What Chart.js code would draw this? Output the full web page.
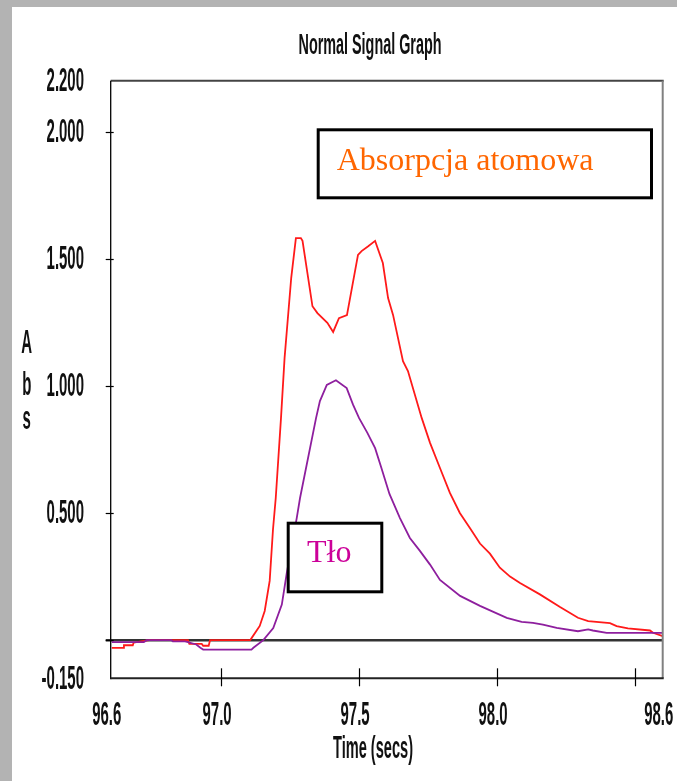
<!DOCTYPE html>
<html><head><meta charset="utf-8">
<script src="https://cdn.jsdelivr.net/npm/chart.js@4/dist/chart.umd.min.js"></script>
<style>
html,body{margin:0;padding:0;background:#b3b3b3;width:677px;height:781px;overflow:hidden}
#wrap{position:absolute;left:12px;top:7px;width:665px;height:774px;background:#fff}
canvas{display:block}
</style></head><body>
<div id="wrap"><canvas id="c" width="665" height="774"></canvas></div>
<script>
// ---- data (time in seconds, absorbance) ----
const title = "Normal Signal Graph";
const xTitle = "Time (secs)";
const yTitle = ["A", "b", "s"];
const seriesNames = ["Absorpcja atomowa", "Tło"];
const xTickValues = [97.0, 97.5, 98.0, 98.5];
const xTickLabels = [[96.6, "96.6"], [97.0, "97.0"], [97.5, "97.5"], [98.0, "98.0"], [98.6, "98.6"]];
const yTickValues = [2.0, 1.5, 1.0, 0.5, 0.0];
const yTickLabels = [[2.2, "2.200"], [2.0, "2.000"], [1.5, "1.500"], [1.0, "1.000"], [0.5, "0.500"], [-0.15, "-0.150"]];

const redTime = [96.604, 96.645, 96.648, 96.680, 96.683, 96.71, 96.74, 96.88, 96.885, 96.93, 96.935, 96.955, 96.96, 97.105,
  97.111, 97.140, 97.158, 97.176, 97.188, 97.198, 97.217, 97.230, 97.242, 97.254, 97.271, 97.289, 97.295, 97.331, 97.349,
  97.385, 97.406, 97.427, 97.456, 97.496, 97.509, 97.533, 97.558, 97.586, 97.605, 97.623, 97.659, 97.677, 97.727, 97.757,
  97.793, 97.829, 97.865, 97.902, 97.938, 97.974, 98.010, 98.047, 98.083, 98.155, 98.228, 98.293, 98.330, 98.409, 98.433,
  98.474, 98.554, 98.565, 98.600];
const redAbs = [-0.03, -0.03, -0.02, -0.02, -0.01, -0.005, 0, 0, -0.015, -0.015, -0.022, -0.022, 0, 0,
  0.009, 0.056, 0.115, 0.233, 0.435, 0.559, 0.873, 1.11, 1.267, 1.424, 1.581, 1.581, 1.57, 1.313, 1.286,
  1.248, 1.212, 1.266, 1.278, 1.515, 1.53, 1.549, 1.57, 1.483, 1.345, 1.279, 1.097, 1.058, 0.873, 0.776,
  0.677, 0.579, 0.5, 0.44, 0.38, 0.34, 0.285, 0.25, 0.225, 0.18, 0.13, 0.088, 0.075, 0.067, 0.055,
  0.046, 0.038, 0.029, 0.016];

const bgTime = [96.604, 96.72, 96.73, 96.82, 96.825, 96.87, 96.91, 96.925, 96.935, 97.11, 97.117, 97.153, 97.189, 97.220,
  97.238, 97.274, 97.286, 97.344, 97.358, 97.383, 97.416, 97.455, 97.478, 97.500, 97.530, 97.558, 97.580, 97.610, 97.648, 97.684,
  97.721, 97.757, 97.793, 97.866, 97.938, 98.035, 98.089, 98.130, 98.166, 98.216, 98.293, 98.330, 98.347, 98.397, 98.600];
const bgAbs = [-0.008, -0.008, 0, 0, -0.005, -0.005, -0.017, -0.03, -0.037, -0.037, -0.03, 0, 0.048, 0.14,
  0.264, 0.48, 0.559, 0.873, 0.94, 1.004, 1.022, 0.991, 0.926, 0.873, 0.815, 0.755, 0.68, 0.575, 0.48, 0.402,
  0.35, 0.297, 0.237, 0.174, 0.135, 0.088, 0.072, 0.068, 0.061, 0.048, 0.035, 0.042, 0.038, 0.029, 0.029];

const X_MIN = 96.6, X_MAX = 98.6, Y_MIN = -0.15, Y_MAX = 2.2;

function pts(ts, vs) { return ts.map((t, i) => ({x: t, y: vs[i]})); }

function narrow(ctx, text, x, y, font, sx, align, color) {
  ctx.save();
  ctx.font = font;
  ctx.fillStyle = color || "#000";
  ctx.textBaseline = "middle";
  ctx.translate(x, y);
  ctx.scale(sx, 1);
  ctx.textAlign = align;
  ctx.fillText(text, 0, 0);
  ctx.restore();
}
function narrowW(ctx, text, x, y, font, width, color) {
  ctx.save();
  ctx.font = font;
  const w = ctx.measureText(text).width;
  ctx.restore();
  narrow(ctx, text, x, y, font, width / w, "center", color);
}

const NUMFONT = "bold 34px 'Liberation Sans', Arial, sans-serif";
const NUMSX = 0.44;

const axesPlugin = {
  id: "axesPlugin",
  beforeDatasetsDraw(chart) {
    const ctx = chart.ctx, ys = chart.scales.y, a = chart.chartArea;
    ctx.save();
    const y0 = ys.getPixelForValue(0);
    ctx.strokeStyle = "#333"; ctx.lineWidth = 2.5;
    ctx.beginPath(); ctx.moveTo(a.left - 5, y0); ctx.lineTo(a.right, y0); ctx.stroke();
    ctx.restore();
  },
  afterDatasetsDraw(chart) {
    const ctx = chart.ctx, xs = chart.scales.x, ys = chart.scales.y, a = chart.chartArea;
    ctx.save();
    ctx.lineCap = "butt";
    ctx.strokeStyle = "#444"; ctx.lineWidth = 2;
    ctx.beginPath(); ctx.moveTo(a.left, a.top); ctx.lineTo(a.right + 1, a.top); ctx.stroke();
    ctx.strokeStyle = "#808080"; ctx.lineWidth = 2;
    ctx.beginPath(); ctx.moveTo(a.right, a.top); ctx.lineTo(a.right, a.bottom); ctx.stroke();
    ctx.strokeStyle = "#000"; ctx.lineWidth = 1.3;
    ctx.beginPath(); ctx.moveTo(a.left, a.top); ctx.lineTo(a.left, a.bottom + 1); ctx.stroke();
    ctx.strokeStyle = "#222"; ctx.lineWidth = 2;
    ctx.beginPath(); ctx.moveTo(a.left, a.bottom); ctx.lineTo(a.right + 1, a.bottom); ctx.stroke();
    ctx.strokeStyle = "#000"; ctx.lineWidth = 1.2;
    yTickValues.forEach(v => {
      const y = Math.round(ys.getPixelForValue(v)) + 0.5;
      ctx.beginPath(); ctx.moveTo(a.left - 5, y); ctx.lineTo(a.left + 3, y); ctx.stroke();
    });
    xTickValues.forEach(v => {
      const x = Math.round(xs.getPixelForValue(v)) + 0.5;
      ctx.beginPath(); ctx.moveTo(x, a.bottom - 10); ctx.lineTo(x, a.bottom + 8); ctx.stroke();
    });
    yTickLabels.forEach(([v, s]) => {
      narrow(ctx, s, 72, ys.getPixelForValue(v) + 1, NUMFONT, NUMSX, "right", "#111");
    });
    xTickLabels.forEach(([v, s]) => {
      narrow(ctx, s, xs.getPixelForValue(v) - 4, a.bottom + 37, NUMFONT, NUMSX, "center", "#111");
    });
    narrowW(ctx, title, 358, 39, "bold 30px 'Liberation Sans', Arial, sans-serif", 143, "#111");
    narrowW(ctx, xTitle, 361, 742, "bold 32px 'Liberation Sans', Arial, sans-serif", 80, "#111");
    const absY = [337, 379, 413];
    yTitle.forEach((ch, i) => narrow(ctx, ch, 14.7, absY[i], NUMFONT, NUMSX, "center", "#111"));

    function box(x1, y1, x2, y2) {
      ctx.fillStyle = "#fff"; ctx.fillRect(x1, y1, x2 - x1, y2 - y1);
      ctx.strokeStyle = "#000"; ctx.lineWidth = 3; ctx.strokeRect(x1, y1, x2 - x1, y2 - y1);
    }
    box(304.7 + 1.5, 121.3 + 1.5, 641 - 1.5, 192.3 - 1.5);
    ctx.font = "32px 'Liberation Serif', 'Times New Roman', serif";
    ctx.textAlign = "left"; ctx.textBaseline = "alphabetic";
    ctx.fillStyle = "#ff6600";
    ctx.fillText(seriesNames[0], 324.7, 163);
    box(274.7 + 1.5, 514.7 + 1.5, 371.3 - 1.5, 586.3 - 1.5);
    ctx.fillStyle = "#cc0099";
    ctx.fillText(seriesNames[1], 295, 555.3);
    ctx.restore();
  }
};

new Chart(document.getElementById("c"), {
  type: "line",
  data: {
    datasets: [
      {label: seriesNames[1], data: pts(bgTime, bgAbs), borderColor: "#8e1f9e", borderWidth: 1.8, pointRadius: 0, tension: 0, fill: false},
      {label: seriesNames[0], data: pts(redTime, redAbs), borderColor: "#ff1a1a", borderWidth: 1.8, pointRadius: 0, tension: 0, fill: false}
    ]
  },
  options: {
    responsive: false,
    animation: false,
    devicePixelRatio: 1,
    layout: {padding: {left: 98.7, top: 73.7, right: 14.3, bottom: 102.7}},
    plugins: {legend: {display: false}, title: {display: false}, tooltip: {enabled: false}},
    scales: {
      x: {type: "linear", min: X_MIN, max: X_MAX, display: false},
      y: {type: "linear", min: Y_MIN, max: Y_MAX, display: false}
    }
  },
  plugins: [axesPlugin]
});
</script>
</body></html>
